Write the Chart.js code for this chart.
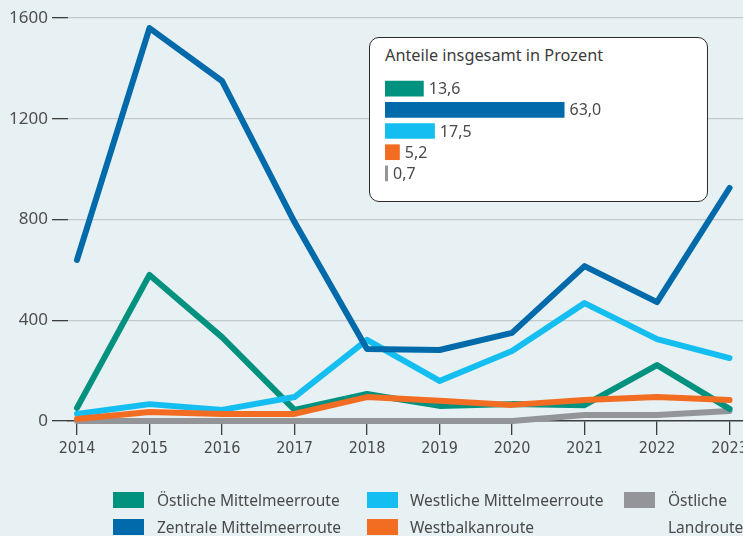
<!DOCTYPE html>
<html lang="de">
<head>
<meta charset="utf-8">
<script src="https://cdn.jsdelivr.net/npm/chart.js@4.4.1/dist/chart.umd.min.js"></script>
<style>
  html, body { margin: 0; padding: 0; }
  body { width: 743px; height: 536px; background: #E7F0F2; position: relative; overflow: hidden;
         font-family: "Noto Sans", "Open Sans", sans-serif; color: #4a4a4a; }
  #main { position: absolute; left: 0; top: 0; }
  #inset { position: absolute; left: 369px; top: 37px; width: 339px; height: 165px; box-sizing: border-box;
           border: 1px solid #2b2b2b; border-radius: 10px; background: #fff; }
  #insetTitle { position: absolute; left: 385px; top: 47px; font-size: 16.3px; line-height: 17px; color: #3c3c3c; white-space: nowrap; }
  #bars { position: absolute; left: 385px; top: 78px; }
  .lg-box { position: absolute; width: 31px; height: 16px; }
  .lg-txt { position: absolute; font-size: 15.5px; line-height: 18px; color: #4a4a4a; white-space: nowrap; }
</style>
</head>
<body>
<canvas id="main" width="743" height="536"></canvas>
<div id="inset"></div>
<div id="insetTitle">Anteile insgesamt in Prozent</div>
<canvas id="bars" width="320" height="106"></canvas>
<div id="legend"></div>
<script>
// ---- data ----
const categories = ['2014', '2015', '2016', '2017', '2018', '2019', '2020', '2021', '2022', '2023'];
const seriesNames = ['Östliche Mittelmeerroute', 'Zentrale Mittelmeerroute', 'Westliche Mittelmeerroute', 'Westbalkanroute', 'Östliche Landroute'];
const oestlicheMittelmeer = [52, 580, 333, 44, 107, 60, 67, 63, 222, 48];
const zentraleMittelmeer  = [640, 1560, 1350, 790, 286, 282, 350, 615, 472, 925];
const westlicheMittelmeer = [28, 67, 44, 95, 322, 159, 278, 468, 325, 250];
const westbalkan          = [8, 36, 28, 28, 95, 80, 64, 83, 95, 83];
const oestlicheLand       = [0, 0, 0, 0, 0, 0, 0, 24, 24, 40];
const yTicks = [0, 400, 800, 1200, 1600];
const shares = [13.6, 63.0, 17.5, 5.2, 0.7];

// ---- styles ----
const colors = ['#00927F', '#006AAB', '#14BEF0', '#F26D21', '#949599'];
const drawOrder = [3, 0, 2, 1, 4];
const allSeries = [oestlicheMittelmeer, zentraleMittelmeer, westlicheMittelmeer, westbalkan, oestlicheLand];

const datasets = allSeries.map((vals, i) => ({
  label: seriesNames[i],
  data: vals.map((v, k) => ({ x: Number(categories[k]), y: v })),
  borderColor: colors[i],
  backgroundColor: colors[i],
  borderWidth: 6,
  borderCapStyle: 'round',
  borderJoinStyle: 'round',
  pointRadius: 0,
  tension: 0,
  clip: false,
  order: drawOrder[i]
}));

const darkAxis = '#3d3d3d';

new Chart(document.getElementById('main'), {
  type: 'line',
  data: { datasets },
  options: {
    responsive: false,
    animation: false,
    devicePixelRatio: 1,
    layout: { padding: { top: 18, right: 0, left: 0, bottom: 75 } },
    plugins: { legend: { display: false }, tooltip: { enabled: false } },
    scales: {
      x: {
        type: 'linear',
        min: 2013.876,
        max: 2023.186,
        afterBuildTicks: s => { s.ticks = categories.map(c => ({ value: Number(c) })); },
        afterFit: s => { s.height = 40; s.paddingLeft = 0; s.paddingRight = 0; },
        border: { display: true, color: darkAxis, width: 1.5 },
        grid: { drawOnChartArea: false, drawTicks: true, tickLength: 14, tickColor: darkAxis, lineWidth: 1.3 },
        ticks: {
          autoSkip: false, maxRotation: 0, padding: 4, color: '#4a4a4a',
          font: { family: "'DejaVu Sans Condensed', 'Liberation Sans Narrow', sans-serif", size: 16 },
          callback: v => String(v)
        }
      },
      y: {
        min: 0,
        max: 1600,
        afterBuildTicks: s => { s.ticks = yTicks.map(v => ({ value: v })); },
        afterFit: s => { s.width = 68; s.paddingTop = 0; s.paddingBottom = 0; },
        border: { display: false },
        grid: {
          color: c => (c.tick && c.tick.value === 0) ? 'rgba(0,0,0,0)' : '#C4C9CB',
          lineWidth: 1.3,
          drawTicks: true, tickLength: 16, tickColor: darkAxis
        },
        ticks: {
          padding: 4, color: '#4f4f4f',
          font: { family: "'Noto Sans', sans-serif", size: 17 },
          callback: v => String(v)
        }
      }
    }
  }
});

// ---- inset bar chart ----
const barLabelPlugin = {
  id: 'barLabels',
  afterDatasetsDraw(chart) {
    const ctx = chart.ctx;
    const meta = chart.getDatasetMeta(0);
    ctx.save();
    ctx.font = "16px 'Noto Sans', sans-serif";
    ctx.fillStyle = '#4a4a4a';
    ctx.textAlign = 'left';
    ctx.textBaseline = 'middle';
    meta.data.forEach((bar, i) => {
      const txt = shares[i].toFixed(1).replace('.', ',');
      ctx.fillText(txt, bar.x + 5, bar.y + 1);
    });
    ctx.restore();
  }
};

new Chart(document.getElementById('bars'), {
  type: 'bar',
  data: {
    labels: seriesNames,
    datasets: [{ data: shares, backgroundColor: colors, borderWidth: 0, barPercentage: 0.74, categoryPercentage: 1, minBarLength: 3 }]
  },
  options: {
    indexAxis: 'y',
    responsive: false,
    animation: false,
    devicePixelRatio: 1,
    layout: { padding: 0 },
    plugins: { legend: { display: false }, tooltip: { enabled: false } },
    scales: {
      x: { display: false, min: 0, max: 112.3 },
      y: { display: false }
    }
  },
  plugins: [barLabelPlugin]
});

// ---- legend (HTML) ----
const legendPos = [
  { bx: 113, by: 492, tx: 157, ty: 491 },
  { bx: 113, by: 519, tx: 157, ty: 518 },
  { bx: 367, by: 492, tx: 410, ty: 491 },
  { bx: 367, by: 519, tx: 410, ty: 518 },
  { bx: 624, by: 492, tx: 668, ty: 491 }
];
const lg = document.getElementById('legend');
seriesNames.forEach((name, i) => {
  const p = legendPos[i];
  const b = document.createElement('div');
  b.className = 'lg-box';
  b.style.left = p.bx + 'px'; b.style.top = p.by + 'px'; b.style.background = colors[i];
  lg.appendChild(b);
  const t = document.createElement('div');
  t.className = 'lg-txt';
  t.style.left = p.tx + 'px'; t.style.top = p.ty + 'px';
  if (i === 4) { t.style.lineHeight = '27px'; t.style.top = (p.ty - 4.5) + 'px'; t.style.width = '80px'; t.style.whiteSpace = 'normal'; }
  t.textContent = name;
  lg.appendChild(t);
});
</script>
</body>
</html>
